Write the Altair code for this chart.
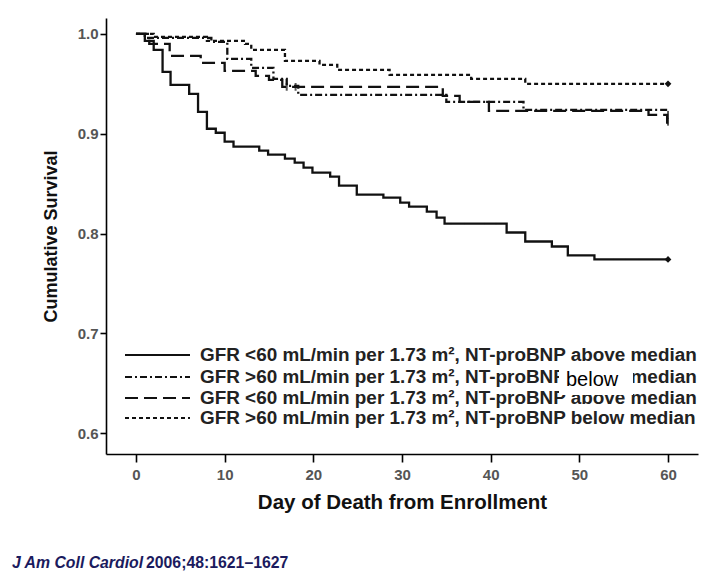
import altair as alt
import pandas as pd

# ---- data ----
solid_days = [0, 1.0, 2.0, 3.0, 3.9, 6.0, 7.0, 8.0, 9.0, 10.0, 11.0, 13.9, 14.9, 16.8, 17.9, 18.9,
              19.9, 21.9, 22.9, 24.9, 27.9, 29.8, 30.8, 32.8, 33.9, 34.8, 41.8, 43.9, 46.9, 48.7, 51.7, 60]
solid_surv = [1.0, 0.993, 0.984, 0.962, 0.949, 0.940, 0.922, 0.905, 0.901, 0.892, 0.887, 0.883, 0.879,
              0.875, 0.871, 0.866, 0.861, 0.857, 0.848, 0.839, 0.836, 0.831, 0.827, 0.822, 0.816, 0.810,
              0.801, 0.792, 0.787, 0.778, 0.774, 0.774]

dashdot_days = [0, 1.0, 8.5, 10.3, 13.0, 15.5, 17.0, 18.3, 35.0, 43.7, 60]
dashdot_surv = [1.0, 0.996, 0.992, 0.975, 0.966, 0.955, 0.948, 0.939, 0.932, 0.924, 0.924]

longdash_days = [0, 1.5, 3.8, 7.3, 10.0, 13.5, 15.0, 16.5, 34.6, 36.5, 39.8, 57.8, 59.9, 60]
longdash_surv = [1.0, 0.990, 0.978, 0.971, 0.963, 0.958, 0.954, 0.947, 0.938, 0.932, 0.923, 0.919,
                 0.906, 0.906]

dotted_days = [0, 2.0, 8.0, 12.3, 13.0, 16.8, 20.7, 22.7, 28.6, 37.8, 43.9, 60]
dotted_surv = [1.0, 0.997, 0.993, 0.990, 0.984, 0.973, 0.969, 0.964, 0.959, 0.955, 0.950, 0.950]

censor_days = [17.0, 18.0, 60, 60]
censor_surv = [0.947, 0.947, 0.919, 0.912]

end_days = [60, 60]
end_surv = [0.774, 0.950]

legend_labels = [
    "GFR <60 mL/min per 1.73 m², NT-proBNP above median",
    "GFR >60 mL/min per 1.73 m², NT-proBNP above median",
    "GFR <60 mL/min per 1.73 m², NT-proBNP above median",
    "GFR >60 mL/min per 1.73 m², NT-proBNP below median",
]
overlay_word = "below"

x_ticks = [0, 10, 20, 30, 40, 50, 60]
y_ticks = [0.6, 0.7, 0.8, 0.9, 1.0]

FONT = "Liberation Sans"
INK = "#111111"

xscale = alt.Scale(domain=[-3.38, 63.38], nice=False, zero=False)
yscale = alt.Scale(domain=[0.579, 1.016], nice=False, zero=False)

label_style = dict(labelFont=FONT, labelFontSize=15, labelFontWeight="bold", labelColor="#555555")

xaxis = alt.Axis(values=x_ticks, title="Day of Death from Enrollment", grid=False,
                 tickSize=8, labelPadding=5, titlePadding=10, titleFontSize=20.5, **label_style)
yaxis = alt.Axis(values=y_ticks, format=".1f", title="Cumulative Survival", grid=False,
                 tickSize=6, labelPadding=2, titlePadding=17, titleFontSize=18, **label_style)


def xy():
    return dict(x=alt.X("day:Q", scale=xscale, axis=xaxis),
                y=alt.Y("surv:Q", scale=yscale, axis=yaxis))


dashes = [[1, 0], [7, 3, 2, 3], [13, 6], [4, 3]]
curves = [(solid_days, solid_surv), (dashdot_days, dashdot_surv),
          (longdash_days, longdash_surv), (dotted_days, dotted_surv)]

layers = []
for (d, s), dash in zip(curves, dashes):
    df = pd.DataFrame({"day": d, "surv": s})
    layers.append(alt.Chart(df).mark_line(interpolate="step-after", color=INK, strokeWidth=2.3,
                                          strokeDash=dash).encode(**xy()))

cdf = pd.DataFrame({"day": censor_days, "surv": censor_surv})
layers.append(alt.Chart(cdf).mark_point(shape="M0,-1L0,1", filled=False, color=INK, strokeWidth=2,
                                        size=60).encode(**xy()))
edf = pd.DataFrame({"day": end_days, "surv": end_surv})
layers.append(alt.Chart(edf).mark_point(shape="diamond", filled=True, color=INK, opacity=1,
                                        size=45).encode(**xy()))

# ---- legend (drawn inside plot, lower left) ----
leg_y = [337, 359, 380, 400]
for lab, dash, yy in zip(legend_labels, dashes, leg_y):
    one = pd.DataFrame({"label": [lab]})
    layers.append(alt.Chart(one).mark_rule(color=INK, strokeWidth=2.2, strokeDash=dash).encode(
        x=alt.value(19), x2=alt.value(84), y=alt.value(yy)))
    layers.append(alt.Chart(one).mark_text(align="left", baseline="middle", font=FONT, fontSize=18.9,
                                           fontWeight="bold", color="#222222").encode(
        x=alt.value(94), y=alt.value(yy), text="label:N"))

ow = pd.DataFrame({"w": [overlay_word]})
layers.append(alt.Chart(ow).mark_rect(color="white").encode(
    x=alt.value(453), x2=alt.value(527), y=alt.value(348), y2=alt.value(377)))
layers.append(alt.Chart(ow).mark_text(align="left", baseline="middle", font=FONT, fontSize=20,
                                      color="#000000").encode(x=alt.value(460), y=alt.value(362),
                                                              text="w:N"))

# ---- citation ----
cite1 = pd.DataFrame({"t": ["J Am Coll Cardiol"]})
cite2 = pd.DataFrame({"t": ["2006;48:1621–1627"]})
layers.append(alt.Chart(cite1).mark_text(align="left", baseline="middle", font=FONT, fontSize=15.8,
                                         fontWeight="bold", fontStyle="italic", color="#1b1b5e").encode(
    x=alt.value(-94), y=alt.value(545), text="t:N"))
layers.append(alt.Chart(cite2).mark_text(align="left", baseline="middle", font=FONT, fontSize=15.8,
                                         fontWeight="bold", color="#1b1b5e").encode(
    x=alt.value(40), y=alt.value(545), text="t:N"))

chart = alt.layer(*layers).properties(
    width=592, height=436,
    autosize=alt.AutoSizeParams(type="none"),
    padding={"left": 98, "top": 10, "right": 16, "bottom": 118},
).configure_view(stroke=None).configure_axis(
    domainColor="black", domainWidth=1.6, tickColor="black", tickWidth=1.6,
    titleFont=FONT, titleFontWeight="bold", titleColor="#111111",
)

chart.save("out.html", embed_options={"renderer": "svg", "actions": False})
